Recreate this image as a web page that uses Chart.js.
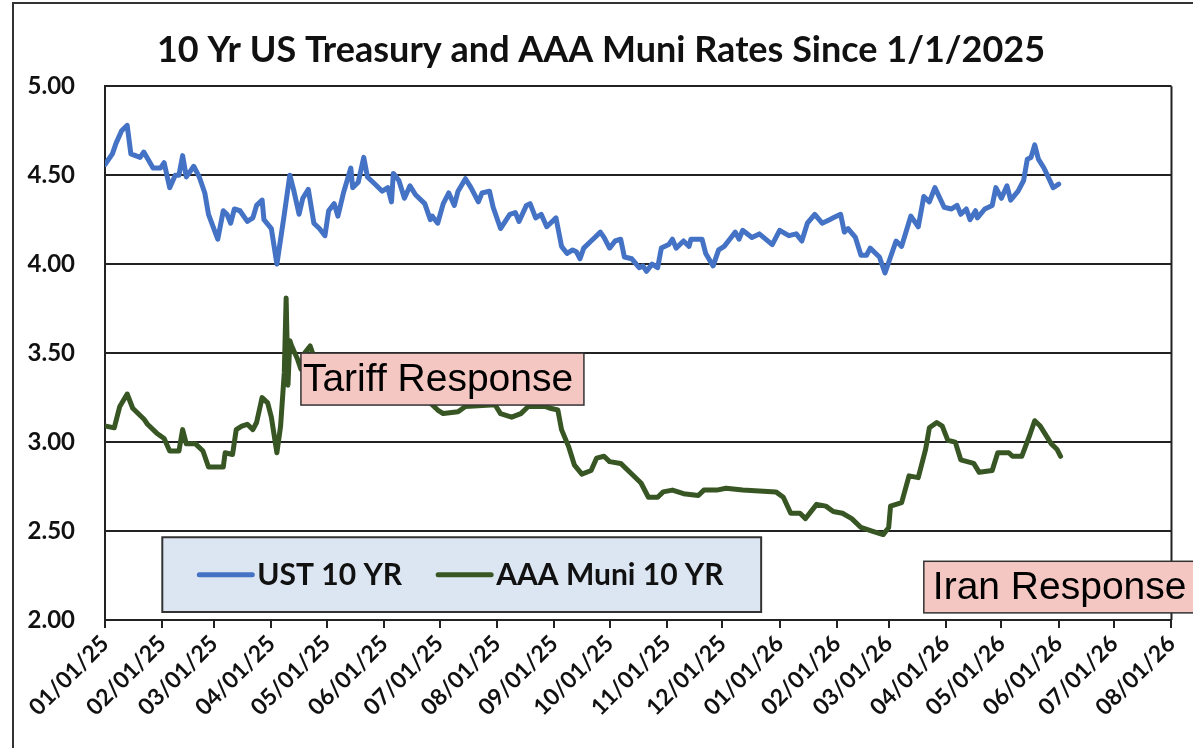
<!DOCTYPE html>
<html>
<head>
<meta charset="utf-8">
<script src="https://cdn.jsdelivr.net/npm/chart.js@4/dist/chart.umd.min.js"></script>
<style>
  html, body { margin: 0; padding: 0; background: #fff; overflow: hidden; }
  #wrap { position: relative; width: 1193px; height: 748px; overflow: hidden; }
  #frame { position: absolute; left: 12px; top: 2px; width: 1200px; height: 760px;
           border-left: 2px solid #333; border-top: 2px solid #333; pointer-events: none; }
  canvas { position: absolute; left: 0; top: 0; }
</style>
</head>
<body>
<div id="wrap">
  <canvas id="chart" width="1193" height="748"></canvas>
  <div id="frame"></div>
</div>
<script>
const title = '10 Yr US Treasury and AAA Muni Rates Since 1/1/2025';

// month ticks on the date axis
const tickLabels = ['01/01/25', '02/01/25', '03/01/25', '04/01/25', '05/01/25', '06/01/25',
  '07/01/25', '08/01/25', '09/01/25', '10/01/25', '11/01/25', '12/01/25', '01/01/26',
  '02/01/26', '03/01/26', '04/01/26', '05/01/26', '06/01/26', '07/01/26', '08/01/26'];

// days since 01/01/25 and yields (%)
const ustDay = [0, 4, 6, 9, 12, 14, 19, 21, 26, 30, 32, 35, 38, 40, 42, 44, 46, 48, 51, 54,
  56, 61, 64, 66, 68, 70, 73, 77, 80, 82, 85, 86, 90, 93, 97, 100, 102, 105, 107, 110,
  113, 116, 119, 121, 124, 126, 129, 133, 134, 137, 140, 142, 146, 150, 153, 155, 156, 159, 162, 165,
  168, 173, 176, 177, 180, 183, 186, 189, 191, 195, 198, 202, 204, 208, 210, 214, 219, 222, 224, 228,
  230, 233, 236, 239, 244, 247, 250, 253, 255, 257, 259, 263, 265, 268, 270, 273, 276, 279, 281, 285,
  289, 291, 293, 296, 299, 301, 305, 307, 309, 313, 316, 317, 323, 325, 329, 332, 335, 338, 341, 343,
  345, 350, 354, 361, 365, 370, 374, 377, 380, 384, 388, 392, 394, 398, 400, 402, 406, 409, 412, 414,
  417, 419, 422, 425, 428, 431, 436, 440, 443, 446, 449, 454, 458, 461, 463, 466, 468, 471, 472, 476,
  480, 482, 485, 488, 490, 494, 497, 499, 501, 503, 505, 508, 513, 516];
const ustRate = [4.56, 4.62, 4.68, 4.75, 4.78, 4.62, 4.60, 4.63, 4.54, 4.54, 4.57, 4.43, 4.50, 4.50, 4.61, 4.49, 4.52, 4.55, 4.49, 4.40,
  4.28, 4.14, 4.30, 4.28, 4.23, 4.31, 4.30, 4.24, 4.26, 4.33, 4.36, 4.25, 4.20, 4.00, 4.28, 4.50, 4.42, 4.28, 4.37, 4.42,
  4.23, 4.20, 4.16, 4.30, 4.34, 4.27, 4.40, 4.54, 4.43, 4.46, 4.60, 4.49, 4.45, 4.41, 4.43, 4.35, 4.51, 4.47, 4.37, 4.44,
  4.39, 4.34, 4.25, 4.27, 4.23, 4.34, 4.40, 4.33, 4.41, 4.48, 4.43, 4.35, 4.40, 4.41, 4.32, 4.20, 4.28, 4.29, 4.24, 4.33,
  4.34, 4.26, 4.28, 4.21, 4.26, 4.10, 4.06, 4.08, 4.07, 4.03, 4.09, 4.13, 4.15, 4.18, 4.15, 4.09, 4.13, 4.14, 4.04, 4.03,
  3.98, 3.99, 3.96, 4.00, 3.98, 4.09, 4.11, 4.14, 4.09, 4.13, 4.10, 4.14, 4.14, 4.06, 3.99, 4.08, 4.10, 4.14, 4.18, 4.14,
  4.19, 4.15, 4.17, 4.11, 4.19, 4.16, 4.17, 4.13, 4.23, 4.28, 4.23, 4.25, 4.26, 4.28, 4.18, 4.20, 4.15, 4.05, 4.05, 4.09,
  4.06, 4.04, 3.95, 4.04, 4.13, 4.10, 4.27, 4.21, 4.38, 4.35, 4.43, 4.32, 4.31, 4.33, 4.28, 4.31, 4.25, 4.30, 4.26, 4.31,
  4.33, 4.43, 4.37, 4.44, 4.36, 4.41, 4.47, 4.59, 4.60, 4.67, 4.59, 4.54, 4.43, 4.45];

const muniDay = [0, 5, 8, 12, 15, 21, 23, 28, 32, 35, 40, 42, 44, 49, 53, 56, 64, 65, 69, 71,
  74, 77, 80, 82, 85, 88, 90, 93, 95, 97, 98, 99, 100, 101, 104, 106, 108, 111, 114, 120,
  130, 140, 150, 160, 170, 176, 180, 183, 191, 195, 211, 214, 220, 225, 229, 238, 241, 245, 247, 251,
  254, 258, 263, 266, 270, 273, 279, 284, 290, 294, 299, 302, 307, 313, 321, 324, 331, 336, 345, 363,
  367, 371, 376, 379, 385, 390, 394, 399, 404, 409, 415, 421, 424, 425, 431, 435, 440, 444, 446, 450,
  453, 456, 460, 463, 470, 473, 480, 483, 489, 491, 496, 500, 503, 506, 512, 515, 517];
const muniRate = [3.09, 3.08, 3.20, 3.27, 3.19, 3.13, 3.10, 3.05, 3.02, 2.95, 2.95, 3.07, 2.99, 2.99, 2.95, 2.86, 2.86, 2.94, 2.93, 3.07,
  3.09, 3.10, 3.07, 3.11, 3.25, 3.22, 3.14, 2.94, 3.09, 3.39, 3.81, 3.32, 3.57, 3.54, 3.47, 3.41, 3.50, 3.54, 3.45, 3.40,
  3.36, 3.34, 3.30, 3.28, 3.26, 3.22, 3.18, 3.16, 3.17, 3.20, 3.21, 3.16, 3.14, 3.16, 3.20, 3.20, 3.19, 3.18, 3.07, 2.97,
  2.87, 2.82, 2.84, 2.91, 2.92, 2.89, 2.88, 2.83, 2.77, 2.69, 2.69, 2.72, 2.73, 2.71, 2.70, 2.73, 2.73, 2.74, 2.73, 2.72,
  2.69, 2.60, 2.60, 2.57, 2.65, 2.64, 2.61, 2.60, 2.57, 2.52, 2.50, 2.48, 2.52, 2.64, 2.66, 2.81, 2.80, 2.96, 3.08, 3.11,
  3.09, 3.01, 3.00, 2.90, 2.88, 2.83, 2.84, 2.94, 2.94, 2.92, 2.92, 3.03, 3.12, 3.09, 2.99, 2.96, 2.92];

const seriesNames = ['UST 10 YR', 'AAA Muni 10 YR'];
const seriesColors = ['#4472C4', '#375623'];
const notes = ['Tariff Response', 'Iran Response'];

function dayOf(label) {
  const [m, d, y] = label.split('/').map(Number);
  return Math.round((Date.UTC(2000 + y, m - 1, d) - Date.UTC(2025, 0, 1)) / 864e5);
}
const tickDays = tickLabels.map(dayOf);

const boldFont = size => ({ family: 'Lato', weight: 'bold', size: size });

// plot frame on the right side, under the lines
const frame = {
  id: 'frame',
  beforeDatasetsDraw(chart) {
    const a = chart.chartArea, ctx = chart.ctx;
    ctx.save();
    ctx.strokeStyle = '#222';
    ctx.lineWidth = 2;
    ctx.beginPath();
    ctx.moveTo(a.right, a.top);
    ctx.lineTo(a.right, a.bottom);
    ctx.stroke();
    ctx.restore();
  }
};

// legend box and the two callouts, placed with the chart's own scales
const boxes = {
  id: 'boxes',
  afterDraw(chart) {
    const ctx = chart.ctx, x = chart.scales.x, y = chart.scales.y;
    ctx.save();

    // legend
    const lx0 = x.getPixelForValue(31), lx1 = x.getPixelForValue(355);
    const ly0 = y.getPixelForValue(2.465), ly1 = y.getPixelForValue(2.045);
    ctx.fillStyle = '#DCE6F2';
    ctx.fillRect(lx0, ly0, lx1 - lx0, ly1 - ly0);
    ctx.strokeStyle = '#333';
    ctx.lineWidth = 2;
    ctx.strokeRect(lx0, ly0, lx1 - lx0, ly1 - ly0);
    ctx.font = 'bold 30px Lato';
    ctx.textBaseline = 'middle';
    ctx.textAlign = 'left';
    let cx = lx0 + 37;
    const cy = (ly0 + ly1) / 2;
    chart.data.datasets.forEach(ds => {
      ctx.strokeStyle = ds.borderColor;
      ctx.lineWidth = 5;
      ctx.lineCap = 'round';
      ctx.beginPath();
      ctx.moveTo(cx, cy);
      ctx.lineTo(cx + 53, cy);
      ctx.stroke();
      ctx.fillStyle = '#111';
      ctx.fillText(ds.label, cx + 58, cy + 1);
      cx += 58 + ctx.measureText(ds.label).width + 36;
    });

    // callouts
    ctx.font = '39px "Liberation Sans"';
    ctx.textBaseline = 'alphabetic';
    const callout = (text, d0, v0, v1, padX, w) => {
      const bx = x.getPixelForValue(d0), by0 = y.getPixelForValue(v0), by1 = y.getPixelForValue(v1);
      ctx.fillStyle = '#F4C7C3';
      ctx.fillRect(bx, by0, w, by1 - by0);
      ctx.strokeStyle = '#333';
      ctx.lineWidth = 1.5;
      ctx.strokeRect(bx, by0, w, by1 - by0);
      ctx.fillStyle = '#000';
      ctx.fillText(text, bx + padX, by1 - 14);
    };
    callout(notes[0], 106, 3.5, 3.208, 2, 283);
    callout(notes[1], 443, 2.33, 2.04, 9, 320);
    ctx.restore();
  }
};

new Chart(document.getElementById('chart'), {
  type: 'line',
  data: {
    datasets: [
      {
        label: seriesNames[0],
        data: ustDay.map((d, i) => ({ x: d, y: ustRate[i] })),
        borderColor: seriesColors[0],
        borderWidth: 5,
        pointRadius: 0,
        tension: 0,
        borderJoinStyle: 'round',
        borderCapStyle: 'round'
      },
      {
        label: seriesNames[1],
        data: muniDay.map((d, i) => ({ x: d, y: muniRate[i] })),
        borderColor: seriesColors[1],
        borderWidth: 5,
        pointRadius: 0,
        tension: 0,
        borderJoinStyle: 'round',
        borderCapStyle: 'round'
      }
    ]
  },
  options: {
    responsive: false,
    animation: false,
    devicePixelRatio: 1,
    layout: { padding: { left: 24, right: 15, top: 0, bottom: 0 } },
    plugins: {
      legend: { display: false },
      tooltip: { enabled: false },
      title: {
        display: true,
        text: title,
        color: '#111',
        font: boldFont(36),
        padding: { top: 29, bottom: 14 }
      }
    },
    scales: {
      x: {
        type: 'linear',
        min: tickDays[0],
        max: tickDays[tickDays.length - 1],
        afterBuildTicks: s => { s.ticks = tickDays.map(v => ({ value: v })); },
        afterFit: s => { s.height = 128; },
        ticks: {
          autoSkip: false,
          minRotation: 45,
          maxRotation: 45,
          padding: 2,
          color: '#111',
          font: boldFont(23),
          callback: (v, i) => tickLabels[i]
        },
        grid: { drawOnChartArea: false, drawTicks: true, tickLength: 8, color: '#222', lineWidth: 2 },
        border: { display: true, color: '#222', width: 2 }
      },
      y: {
        min: 2,
        max: 5,
        afterFit: s => { s.width = 81; },
        ticks: {
          stepSize: 0.5,
          padding: 30,
          color: '#111',
          font: boldFont(24),
          callback: v => v.toFixed(2)
        },
        grid: { color: '#222', lineWidth: 2, drawTicks: false },
        border: { display: true, color: '#222', width: 2 }
      }
    }
  },
  plugins: [frame, boxes]
});
</script>
</body>
</html>
